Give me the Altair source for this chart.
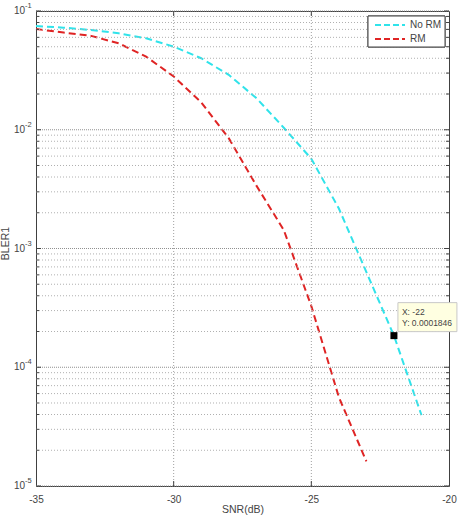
import altair as alt
import pandas as pd

# ---- data ----
snr_no_rm = [-35, -34, -33, -32, -31, -30, -29, -28, -27, -26, -25, -24, -23, -22, -21]
bler_no_rm = [0.0748, 0.0724, 0.0692, 0.0649, 0.0589, 0.0501, 0.0400, 0.0290, 0.0185,
              0.0104, 0.0057, 0.00217, 0.000632, 0.0001846, 0.0000395]
snr_rm = [-35, -34, -33, -32, -31, -30, -29, -28, -27, -26, -25, -24, -23]
bler_rm = [0.0706, 0.0658, 0.0617, 0.0535, 0.0413, 0.0281, 0.0170, 0.0085, 0.00340,
           0.00143, 0.000327, 0.000056, 0.0000161]
series_names = ["No RM", "RM"]
x_ticks = [-35, -30, -25, -20]
x_inner_ticks = [-30, -25]
y_major = [1e-5, 1e-4, 1e-3, 1e-2, 1e-1]
y_exp = ["-5", "-4", "-3", "-2", "-1"]
y_minor = [k * 10.0 ** e for e in range(-5, -1) for k in range(2, 10)]
tip_x = -22
tip_y = 0.0001846

W, H = 413, 475
CYAN = "#30e3ea"
RED = "#df2424"
TXT = "#444444"
FONT = "Liberation Sans"

xs = alt.Scale(domain=[-35, -20], nice=False, zero=False)
ys = alt.Scale(type="log", domain=[1e-5, 1e-1], nice=False)
cs = alt.Scale(domain=series_names, range=[CYAN, RED])

x_axis = alt.Axis(title="SNR(dB)", values=x_ticks, labelExpr="'' + datum.value",
                  grid=False, ticks=False, domain=False, labelPadding=8,
                  labelFlush=False, labelOverlap=False,
                  labelFontSize=10, labelColor=TXT, labelFont=FONT,
                  titleFontSize=10.5, titleFontWeight="normal", titleColor=TXT,
                  titleFont=FONT, titlePadding=0)
y_axis = alt.Axis(title="BLER1", labels=False, ticks=False, domain=False, grid=False,
                  titleFontSize=10.5, titleFontWeight="normal", titleColor=TXT,
                  titleFont=FONT, titleX=-26, titleY=232)


def X(field):
    return alt.X(f"{field}:Q", scale=xs, axis=x_axis)


def Y(field):
    return alt.Y(f"{field}:Q", scale=ys, axis=y_axis)


lines_df = pd.DataFrame({
    "snr": snr_no_rm + snr_rm,
    "bler": bler_no_rm + bler_rm,
    "series": [series_names[0]] * len(snr_no_rm) + [series_names[1]] * len(snr_rm),
})
legend_df = pd.DataFrame({"series": series_names})
minor_df = pd.DataFrame({"bler": y_minor})
major_df = pd.DataFrame({"bler": y_major, "exp": y_exp, "base": ["10"] * len(y_major)})
xt_df = pd.DataFrame({"snr": x_inner_ticks})
tip_df = pd.DataFrame({"snr": [tip_x], "bler": [tip_y],
                       "l1": [f"X: {tip_x}"], "l2": [f"Y: {tip_y}"]})

grid_minor = alt.Chart(minor_df).mark_rule(color="#b0b0b0", strokeDash=[1, 2], strokeWidth=1).encode(
    y=Y("bler"), x=alt.value(0), x2=alt.value(W))
grid_major = alt.Chart(major_df).mark_rule(color="#909090", strokeDash=[1, 1], strokeWidth=1).encode(
    y=Y("bler"), x=alt.value(0), x2=alt.value(W))
grid_x = alt.Chart(xt_df).mark_rule(color="#a0a0a0", strokeDash=[1, 2], strokeWidth=1).encode(
    x=X("snr"), y=alt.value(0), y2=alt.value(H))

# inward tick marks
tk_minor_l = alt.Chart(minor_df).mark_rule(color="#444", strokeWidth=1).encode(
    y=Y("bler"), x=alt.value(0), x2=alt.value(3))
tk_minor_r = alt.Chart(minor_df).mark_rule(color="#444", strokeWidth=1).encode(
    y=Y("bler"), x=alt.value(W - 3), x2=alt.value(W))
tk_major_l = alt.Chart(major_df).mark_rule(color="#444", strokeWidth=1).encode(
    y=Y("bler"), x=alt.value(0), x2=alt.value(5))
tk_major_r = alt.Chart(major_df).mark_rule(color="#444", strokeWidth=1).encode(
    y=Y("bler"), x=alt.value(W - 5), x2=alt.value(W))
tk_x_b = alt.Chart(xt_df).mark_rule(color="#444", strokeWidth=1).encode(
    x=X("snr"), y=alt.value(H - 5), y2=alt.value(H))
tk_x_t = alt.Chart(xt_df).mark_rule(color="#444", strokeWidth=1).encode(
    x=X("snr"), y=alt.value(0), y2=alt.value(5))

# y tick labels as 10 with superscript exponent
lab_base = alt.Chart(major_df).mark_text(align="right", baseline="middle", fontSize=10,
                                         font=FONT, color=TXT).encode(
    y=Y("bler"), x=alt.value(-11), text="base:N")
lab_exp = alt.Chart(major_df).mark_text(align="left", baseline="middle", fontSize=7.5,
                                        font=FONT, color=TXT, dy=-5).encode(
    y=Y("bler"), x=alt.value(-11), text="exp:N")

lines = alt.Chart(lines_df).mark_line(strokeWidth=2, strokeDash=[7, 4]).encode(
    x=X("snr"), y=Y("bler"),
    color=alt.Color("series:N", scale=cs, legend=None),
    order=alt.Order("snr:Q"),
)

# legend box (MATLAB style, top right)
leg_box = alt.Chart(legend_df).mark_rect(fill="white", stroke="#444", strokeWidth=1).encode(
    x=alt.value(332), x2=alt.value(409), y=alt.value(5), y2=alt.value(36))
leg_layers = []
for i, name in enumerate(series_names):
    row_y = 14 + 14 * i
    base = alt.Chart(legend_df).transform_filter(alt.datum.series == name)
    leg_layers.append(base.mark_rule(strokeWidth=2, strokeDash=[6, 3]).encode(
        x=alt.value(339), x2=alt.value(369), y=alt.value(row_y),
        color=alt.Color("series:N", scale=cs, legend=None)))
    leg_layers.append(base.mark_text(align="left", baseline="middle", fontSize=10,
                                     font=FONT, color=TXT).encode(
        x=alt.value(374), y=alt.value(row_y), text="series:N"))

tip_box = alt.Chart(tip_df).mark_rect(fill="#ffffe1", stroke="#c8c8c8", strokeWidth=1,
                                      xOffset=4, x2Offset=63, yOffset=-33, y2Offset=-4).encode(
    x=X("snr"), x2="snr:Q", y=Y("bler"), y2="bler:Q")
tip_t1 = alt.Chart(tip_df).mark_text(align="left", baseline="middle", fontSize=8.5, font=FONT,
                                     color=TXT, dx=8, dy=-24).encode(
    x=X("snr"), y=Y("bler"), text="l1:N")
tip_t2 = alt.Chart(tip_df).mark_text(align="left", baseline="middle", fontSize=8.5, font=FONT,
                                     color=TXT, dx=8, dy=-13).encode(
    x=X("snr"), y=Y("bler"), text="l2:N")
tip_pt = alt.Chart(tip_df).mark_square(size=49, color="black", filled=True, opacity=1).encode(
    x=X("snr"), y=Y("bler"))

chart = alt.layer(
    lines, grid_minor, grid_major, grid_x,
    tk_minor_l, tk_minor_r, tk_major_l, tk_major_r, tk_x_b, tk_x_t,
    lab_base, lab_exp, leg_box, *leg_layers, tip_box, tip_t1, tip_t2, tip_pt,
).properties(
    width=W, height=H,
    padding={"left": 36, "top": 11, "right": 9, "bottom": 30},
    autosize=alt.AutoSizeParams(type="none"),
    background="white",
).configure_view(stroke="#404040", strokeWidth=1)

chart.save("out.html", embed_options={"renderer": "svg", "actions": False})
